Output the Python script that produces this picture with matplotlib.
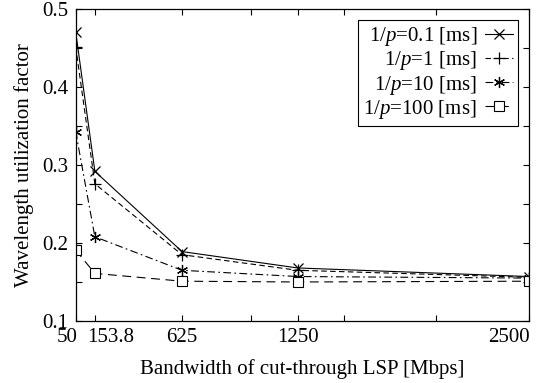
import numpy as np
import matplotlib
matplotlib.use("Agg")
import matplotlib.pyplot as plt
import matplotlib.transforms as mtransforms

plt.rcParams["font.family"] = ["Liberation Serif", "DejaVu Serif"]
plt.rcParams["mathtext.fontset"] = "custom"
plt.rcParams["mathtext.rm"] = "Liberation Serif"
plt.rcParams["mathtext.it"] = "Liberation Serif:italic"

# bandwidth of cut-through LSP [Mbps]
bandwidth = [50, 153.8, 625, 1250, 2500]

# wavelength utilization factor, one list per 1/p
util_p01 = [0.471, 0.292, 0.189, 0.168, 0.157]
util_p1 = [0.452, 0.276, 0.185, 0.165, 0.156]
util_p10 = [0.343, 0.208, 0.165, 0.157, 0.155]
util_p100 = [0.191, 0.161, 0.151, 0.150, 0.151]

labels = [r"1/$\mathit{p}$=0.1 [ms]", r"1/$\mathit{p}$=1 [ms]",
          r"1/$\mathit{p}$=10 [ms]", r"1/$\mathit{p}$=100 [ms]"]

xticks = [50, 153.8, 625, 1000, 1250, 1500, 2000, 2500]
xticklabels = ["50", "153.8", "625", "", "1250", "", "", "2500"]
yticks = np.arange(0.1, 0.501, 0.05)
yticklabels = ["0.1", "", "0.2", "", "0.3", "", "0.4", "", "0.5"]

fig = plt.figure(figsize=(5.39, 3.83), dpi=100)
ax = fig.add_axes([0.1404, 0.162, 0.8406, 0.814])

lw = 0.8
ax.plot(bandwidth, util_p01, color="black", lw=lw, ls="-",
        marker="x", ms=7, mew=0.9, label=labels[0])
ax.plot(bandwidth, util_p1, color="black", lw=lw, ls=(0, (5, 3)),
        marker="+", ms=8, mew=0.9, label=labels[1])
ax.plot(bandwidth, util_p10, color="black", lw=lw, ls=(0, (7, 3, 1.5, 3)),
        marker=(6, 2, 0), ms=8, mew=0.9, label=labels[2])
ax.plot(bandwidth, util_p100, color="black", lw=lw, ls=(0, (8, 5)),
        marker="s", ms=7, mew=0.8, mfc="white", label=labels[3])

ax.set_xlim(50, 2500)
ax.set_ylim(0.1, 0.5)
ax.set_xticks(xticks)
ax.set_xticklabels(xticklabels)
ax.set_yticks(yticks)
ax.set_yticklabels(yticklabels)
ax.tick_params(direction="in", length=4, width=0.8, top=True, right=True,
               labelsize=15, pad=5)
for sp in ax.spines.values():
    sp.set_linewidth(0.9)

# nudge crowded x labels the way the original does
px = 72 / 100
shifts = {"50": ("right", 2), "153.8": ("center", 16), "2500": ("right", 1)}
for lab in ax.get_xticklabels():
    txt = lab.get_text()
    if txt in shifts:
        ha, dx = shifts[txt]
        lab.set_ha(ha)
        off = mtransforms.ScaledTranslation(dx * px / 72, 0, fig.dpi_scale_trans)
        lab.set_transform(lab.get_transform() + off)

ax.set_xlabel("Bandwidth of cut-through LSP [Mbps]", fontsize=15, labelpad=9)
ax.set_ylabel("Wavelength utilization factor", fontsize=15, labelpad=6)

leg = ax.legend(loc="upper right", fontsize=15, markerfirst=False,
                handlelength=1.3, handletextpad=0.4, labelspacing=0.05,
                borderpad=0.28, borderaxespad=0.5, fancybox=False,
                framealpha=1, edgecolor="black")
leg.get_frame().set_linewidth(0.8)

fig.savefig("out.png", dpi=100)
